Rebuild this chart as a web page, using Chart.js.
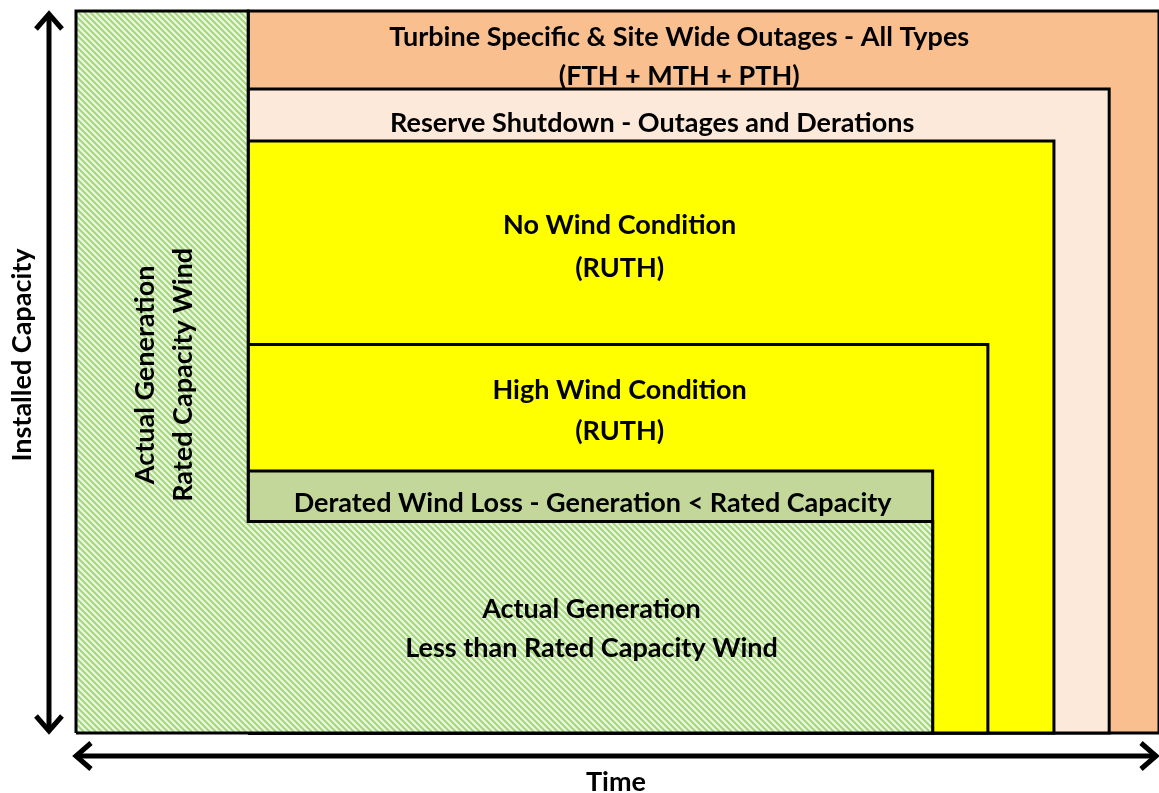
<!DOCTYPE html>
<html>
<head>
<meta charset="UTF-8">
<title>Wind Capacity Categories</title>
<script src="https://cdn.jsdelivr.net/npm/chart.js@4.4.0/dist/chart.umd.min.js"></script>
<style>
  * { margin: 0; padding: 0; box-sizing: border-box; }
  body { background: #fff; }
  .wrap { width: 1159px; height: 793px; position: relative; }
</style>
</head>
<body>
<div class="wrap"><canvas id="capChart"></canvas></div>
<script>
// regions, outermost first (time in % of period, capacity in % of installed)
const categories = ['Turbine Specific & Site Wide Outages', 'Reserve Shutdown', 'No Wind Condition',
  'High Wind Condition', 'Derated Wind Loss', 'Actual Generation'];
const timeEnd = [100, 95.4, 90.3, 84.2, 79.1, 79.1];
const capacityTop = [100, 89.2, 82.0, 53.8, 36.3, 29.3];
const ratedWindEnd = 15.9;   // period of generation at rated capacity
const regionColors = ['#FABF8F', '#FDE9D9', '#FFFF00', '#FFFF00', '#C4D79B', 'hatch'];

// text in each region: [line1, line2, time, capacity1, capacity2]
const regionLabels = [
  ['Turbine Specific & Site Wide Outages - All Types', '(FTH + MTH + PTH)', 55.7, 96.4, 91.0],
  ['Reserve Shutdown - Outages and Derations', null, 53.2, 84.4],
  ['No Wind Condition', '(RUTH)', 50.2, 70.3, 64.3],
  ['High Wind Condition', '(RUTH)', 50.2, 47.5, 41.8],
  ['Derated Wind Loss - Generation < Rated Capacity', null, 47.7, 31.8],
  ['Actual Generation', 'Less than Rated Capacity Wind', 47.6, 17.2, 11.7]
];
const ratedLabels = [['Actual Generation', 6.4], ['Rated Capacity Wind', 9.9]];
const ratedLabelCap = 49.6;

const FONT = 'bold 27px Lato, "Open Sans", sans-serif';

function hatchPattern() {
  const s = 6;
  const c = document.createElement('canvas');
  c.width = s; c.height = s;
  const g = c.getContext('2d');
  g.fillStyle = '#EDF5E3';
  g.fillRect(0, 0, s, s);
  g.strokeStyle = '#A2D879';
  g.lineWidth = 2;
  g.beginPath();
  g.moveTo(-1, -1); g.lineTo(s + 1, s + 1);
  g.moveTo(-1, s - 1); g.lineTo(1, s + 1);
  g.moveTo(s - 1, -1); g.lineTo(s + 1, 1);
  g.stroke();
  return g.createPattern(c, 'repeat');
}

function rect(x0, x1, y0, y1) {
  return [{x: x0, y: y0}, {x: x0, y: y1}, {x: x1, y: y1}, {x: x1, y: y0}, {x: x0, y: y0}];
}

const datasets = categories.map((name, i) => {
  let pts;
  if (i === categories.length - 1) {
    // L shape: rated column on the left + actual generation band
    pts = [{x: 0, y: 0}, {x: 0, y: 100}, {x: ratedWindEnd, y: 100}, {x: ratedWindEnd, y: capacityTop[i]},
      {x: timeEnd[i], y: capacityTop[i]}, {x: timeEnd[i], y: 0}, {x: 0, y: 0}];
  } else {
    pts = rect(ratedWindEnd, timeEnd[i], 0, capacityTop[i]);
  }
  return {
    label: name,
    data: pts,
    showLine: true,
    fill: 'shape',
    backgroundColor: regionColors[i] === 'hatch' ? hatchPattern() : regionColors[i],
    borderColor: '#000',
    borderWidth: 3,
    borderJoinStyle: 'miter',
    pointRadius: 0,
    tension: 0,
    clip: 4,
    order: categories.length - i
  };
});

// labels and the two double arrows
const diagramText = {
  id: 'diagramText',
  afterDatasetsDraw(chart) {
    const {ctx, chartArea: a, scales: {x, y}} = chart;
    ctx.save();
    ctx.fillStyle = '#000';
    ctx.font = FONT;
    ctx.textAlign = 'center';
    ctx.textBaseline = 'middle';
    regionLabels.forEach(l => {
      ctx.fillText(l[0], x.getPixelForValue(l[2]), y.getPixelForValue(l[3]));
      if (l[1]) ctx.fillText(l[1], x.getPixelForValue(l[2]), y.getPixelForValue(l[4]));
    });
    ratedLabels.forEach(l => {
      ctx.save();
      ctx.translate(x.getPixelForValue(l[1]), y.getPixelForValue(ratedLabelCap));
      ctx.rotate(-Math.PI / 2);
      ctx.fillText(l[0], 0, 0);
      ctx.restore();
    });

    // axes arrows
    ctx.strokeStyle = '#000';
    ctx.lineWidth = 5;
    ctx.lineCap = 'butt';
    ctx.lineJoin = 'miter';
    const vx = a.left - 27, hy = a.bottom + 23;
    const head = 13, len = 15;
    ctx.beginPath();
    ctx.moveTo(vx, a.top + 3); ctx.lineTo(vx, a.bottom - 2);
    ctx.moveTo(a.left, hy); ctx.lineTo(a.right - 3, hy);
    ctx.stroke();
    ctx.beginPath();
    ctx.moveTo(vx - head, a.top + 3 + len); ctx.lineTo(vx, a.top + 3); ctx.lineTo(vx + head, a.top + 3 + len);
    ctx.moveTo(vx - head, a.bottom - 2 - len); ctx.lineTo(vx, a.bottom - 2); ctx.lineTo(vx + head, a.bottom - 2 - len);
    ctx.moveTo(a.left + len, hy - head); ctx.lineTo(a.left, hy); ctx.lineTo(a.left + len, hy + head);
    ctx.moveTo(a.right - 3 - len, hy - head); ctx.lineTo(a.right - 3, hy); ctx.lineTo(a.right - 3 - len, hy + head);
    ctx.stroke();

    // axis titles
    ctx.fillText('Time', 616, a.bottom + 49);
    ctx.save();
    ctx.translate(22, 355);
    ctx.rotate(-Math.PI / 2);
    ctx.fillText('Installed Capacity', 0, 0);
    ctx.restore();
    ctx.restore();
  }
};

new Chart(document.getElementById('capChart'), {
  type: 'scatter',
  data: {datasets},
  options: {
    responsive: true,
    maintainAspectRatio: false,
    animation: false,
    layout: {padding: {left: 76, top: 11, right: 0, bottom: 60}},
    scales: {
      x: {type: 'linear', min: 0, max: 100, display: false},
      y: {type: 'linear', min: 0, max: 100, display: false}
    },
    plugins: {legend: {display: false}, tooltip: {enabled: false}}
  },
  plugins: [diagramText]
});
</script>
</body>
</html>
